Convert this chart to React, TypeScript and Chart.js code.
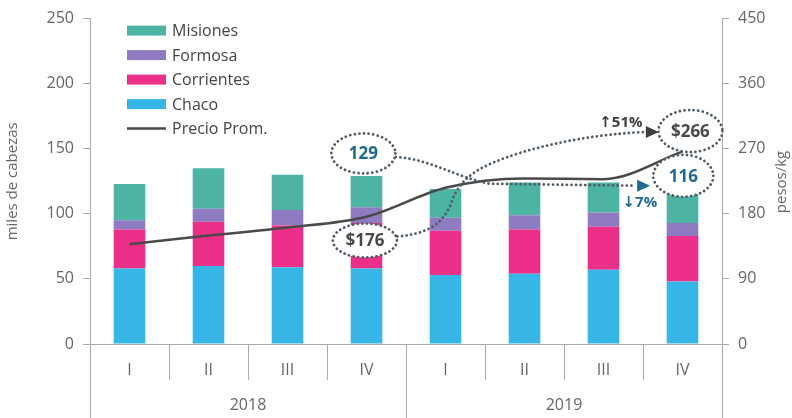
import React, { useEffect, useRef } from "react";
import { Chart, registerables } from "chart.js";

Chart.register(...registerables);

const categories = ["I", "II", "III", "IV", "I", "II", "III", "IV"];
const years = ["2018", "2019"];
const chaco = [58, 60, 59, 58, 53, 54, 57, 48];
const corrientes = [30, 34, 32, 35, 34, 34, 33, 35];
const formosa = [7, 10, 12, 12, 10, 11, 11, 10];
const misiones = [28, 31, 27, 24, 22, 25, 23, 23];
const precio = [138, 150, 161, 176, 216, 229, 228, 266];

const COLORS = {
  misiones: "#4db4a3",
  formosa: "#8e7bc2",
  corrientes: "#ec2f89",
  chaco: "#36b6e6",
  line: "#4a4a4a",
};
const FONT = '"Open Sans", "DejaVu Sans", sans-serif';
const TXT = "#666666";
const AXIS = "#aaaaaa";

const legendItems = [
  { label: "Misiones", color: COLORS.misiones, type: "box" },
  { label: "Formosa", color: COLORS.formosa, type: "box" },
  { label: "Corrientes", color: COLORS.corrientes, type: "box" },
  { label: "Chaco", color: COLORS.chaco, type: "box" },
  { label: "Precio Prom.", color: COLORS.line, type: "line" },
];

const decorPlugin = {
  id: "decor",
  afterDraw(chart: any) {
    const { ctx, chartArea: ca, scales } = chart;
    const xs = scales.x;
    const ys = scales.y;
    const P = (i: number, v: number): [number, number] => [xs.getPixelForValue(i), ys.getPixelForValue(v)];
    ctx.save();

    // x-axis separators & year labels
    ctx.strokeStyle = AXIS;
    ctx.lineWidth = 1;
    for (let k = 0; k <= categories.length; k++) {
      const bx = Math.round(xs.getPixelForValue(k - 0.5)) + 0.5;
      const long = k % 4 === 0;
      ctx.beginPath();
      ctx.moveTo(bx, ca.bottom);
      ctx.lineTo(bx, long ? 418 : ca.bottom + 36);
      ctx.stroke();
    }
    ctx.fillStyle = TXT;
    ctx.font = `16px ${FONT}`;
    ctx.textAlign = "center";
    ctx.textBaseline = "middle";
    years.forEach((yr, j) => {
      const cx = (xs.getPixelForValue(j * 4 - 0.5) + xs.getPixelForValue(j * 4 + 3.5)) / 2;
      ctx.fillText(yr, cx, ca.bottom + 61);
    });

    // axis titles
    ctx.font = `15px ${FONT}`;
    ctx.save();
    ctx.translate(13, (ca.top + ca.bottom) / 2);
    ctx.rotate(-Math.PI / 2);
    ctx.fillText("miles de cabezas", 0, 0);
    ctx.restore();
    ctx.save();
    ctx.translate(782, 182);
    ctx.rotate(-Math.PI / 2);
    ctx.fillText("pesos/kg", 0, 0);
    ctx.restore();

    // legend
    ctx.textAlign = "left";
    ctx.font = `16px ${FONT}`;
    legendItems.forEach((it, n) => {
      const lx = ca.left + 37;
      const cy = ca.top + 12 + n * 24.5;
      if (it.type === "box") {
        ctx.fillStyle = it.color;
        ctx.fillRect(lx, cy - 5, 39, 10);
      } else {
        ctx.strokeStyle = it.color;
        ctx.lineWidth = 2.5;
        ctx.beginPath();
        ctx.moveTo(lx, cy);
        ctx.lineTo(lx + 39, cy);
        ctx.stroke();
      }
      ctx.fillStyle = "#444";
      ctx.fillText(it.label, lx + 45, cy + 1);
    });

    // annotations
    const dotted = () => {
      ctx.setLineDash([0.01, 4.6]);
      ctx.lineCap = "round";
      ctx.lineWidth = 2.8;
      ctx.strokeStyle = "#4f5c66";
    };
    const arrow = (tip: [number, number], color: string) => {
      ctx.setLineDash([]);
      ctx.fillStyle = color;
      ctx.beginPath();
      ctx.moveTo(tip[0], tip[1]);
      ctx.lineTo(tip[0] - 13, tip[1] - 6);
      ctx.lineTo(tip[0] - 13, tip[1] + 6);
      ctx.closePath();
      ctx.fill();
    };
    const curve = (pts: [number, number][]) => {
      ctx.beginPath();
      ctx.moveTo(...pts[0]);
      for (let k = 1; k + 2 < pts.length + 0; k += 3) {
        ctx.bezierCurveTo(...pts[k], ...pts[k + 1], ...pts[k + 2]);
      }
    };

    // 129 -> 116 path
    dotted();
    curve([P(3.37, 143.7), P(3.8, 142.2), P(4.12, 128.4), P(4.56, 123.1)]);
    const e1 = P(6.41, 121.6);
    ctx.lineTo(e1[0], e1[1]);
    ctx.stroke();
    arrow(P(6.59, 121.6), "#1e6c8c");

    // $176 -> $266 path
    dotted();
    curve([
      P(3.39, 82.6),
      P(3.68, 84.1), P(3.93, 88.7), P(4.06, 106.3),
      P(4.18, 129.2), P(4.44, 136.9), P(4.94, 146.8),
      P(5.45, 156.0), P(5.96, 161.3), P(6.52, 162.8),
    ]);
    ctx.stroke();
    arrow(P(6.7, 162.8), "#3d3d3d");

    const ellipse = (c: [number, number], rx: number, ry: number, text: string, color: string) => {
      ctx.setLineDash([]);
      ctx.fillStyle = "#ffffff";
      ctx.beginPath();
      ctx.ellipse(c[0], c[1], rx, ry, 0, 0, Math.PI * 2);
      ctx.fill();
      dotted();
      ctx.beginPath();
      ctx.ellipse(c[0], c[1], rx, ry, 0, 0, Math.PI * 2);
      ctx.stroke();
      ctx.setLineDash([]);
      ctx.fillStyle = color;
      ctx.font = `bold 17px ${FONT}`;
      ctx.textAlign = "center";
      ctx.textBaseline = "middle";
      ctx.fillText(text, c[0], c[1] + 1);
    };
    ellipse(P(2.96, 146.4), 32, 20, "129", "#1f6a94");
    ellipse(P(2.98, 79.5), 32, 17, "$176", "#4a4a4a");
    ellipse(P(7.1, 163.6), 32, 21, "$266", "#4a4a4a");
    ellipse(P(7.01, 129.2), 30, 21, "116", "#1f6a94");

    ctx.font = `bold 15px ${FONT}`;
    ctx.textAlign = "center";
    ctx.fillStyle = "#3d3d3d";
    const t1 = P(6.22, 169.7);
    ctx.fillText("↑51%", t1[0], t1[1]);
    ctx.fillStyle = "#1f6a94";
    const t2 = P(6.46, 108.6);
    ctx.fillText("↓7%", t2[0], t2[1]);

    ctx.restore();
  },
};

export default function App() {
  const ref = useRef<HTMLCanvasElement | null>(null);
  useEffect(() => {
    if (!ref.current) return;
    const bar = (label: string, data: number[], color: string) => ({
      type: "bar" as const,
      label,
      data,
      backgroundColor: color,
      yAxisID: "y",
      barPercentage: 0.4,
      categoryPercentage: 1,
      borderWidth: 0,
    });
    const chart = new Chart(ref.current, {
      type: "bar",
      data: {
        labels: categories,
        datasets: [
          {
            type: "line" as const,
            label: "Precio Prom.",
            data: precio,
            yAxisID: "y1",
            borderColor: COLORS.line,
            borderWidth: 2.5,
            pointRadius: 0,
            cubicInterpolationMode: "monotone",
            fill: false,
          } as any,
          bar("Chaco", chaco, COLORS.chaco),
          bar("Corrientes", corrientes, COLORS.corrientes),
          bar("Formosa", formosa, COLORS.formosa),
          bar("Misiones", misiones, COLORS.misiones),
        ],
      },
      options: {
        responsive: false,
        animation: false,
        layout: { padding: { top: 17, left: 0, right: 0, bottom: 0 } },
        plugins: { legend: { display: false }, tooltip: { enabled: false } },
        scales: {
          x: {
            stacked: true,
            offset: true,
            grid: { display: false },
            border: { display: true, color: AXIS },
            ticks: { color: TXT, font: { size: 16, family: FONT }, padding: 9, maxRotation: 0 },
            afterFit: (s: any) => { s.height = 74; },
          },
          y: {
            stacked: true,
            position: "left",
            min: 0,
            max: 250,
            ticks: { stepSize: 50, color: TXT, font: { size: 16, family: FONT }, padding: 9 },
            grid: { drawOnChartArea: false, tickLength: 7, color: AXIS },
            border: { color: AXIS },
            afterFit: (s: any) => { s.width = 90; },
          },
          y1: {
            position: "right",
            min: 0,
            max: 450,
            ticks: { stepSize: 90, color: TXT, font: { size: 16, family: FONT }, padding: 9 },
            grid: { drawOnChartArea: false, tickLength: 7, color: AXIS },
            border: { color: AXIS },
            afterFit: (s: any) => { s.width = 70; },
          },
        },
      },
      plugins: [decorPlugin],
    });
    return () => chart.destroy();
  }, []);
  return (
    <div style={{ position: "absolute", left: 0, top: 0, width: 792, height: 418, background: "#fff" }}>
      <canvas ref={ref} width={792} height={418} />
    </div>
  );
}
